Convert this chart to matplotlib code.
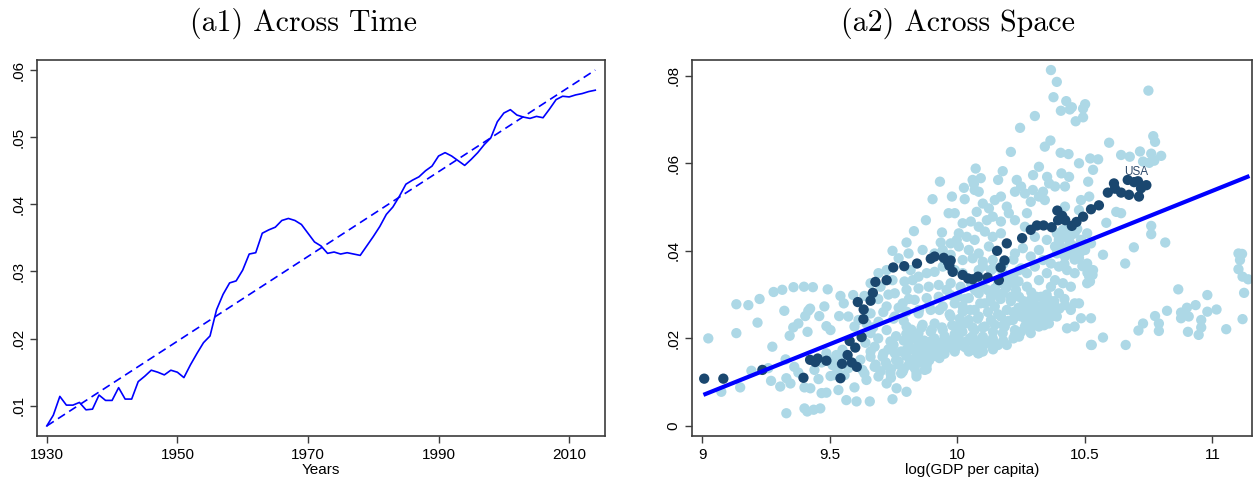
import matplotlib.pyplot as plt

# ---- panel (a1): share over time ----
years = list(range(1930, 2015))
share = [0.0070, 0.0086, 0.0114, 0.0101, 0.0101, 0.0105, 0.0094, 0.0095, 0.0116, 0.0108,
         0.0108, 0.0127, 0.0110, 0.0110, 0.0136, 0.0144, 0.0153, 0.0150, 0.0146, 0.0153,
         0.0150, 0.0142, 0.0161, 0.0178, 0.0194, 0.0204, 0.0243, 0.0266, 0.0283, 0.0286,
         0.0302, 0.0326, 0.0328, 0.0357, 0.0362, 0.0366, 0.0376, 0.0379, 0.0376, 0.0370,
         0.0357, 0.0344, 0.0338, 0.0327, 0.0329, 0.0326, 0.0328, 0.0326, 0.0324, 0.0338,
         0.0352, 0.0367, 0.0385, 0.0396, 0.0412, 0.0430, 0.0436, 0.0441, 0.0450, 0.0457,
         0.0472, 0.0477, 0.0472, 0.0465, 0.0458, 0.0467, 0.0477, 0.0489, 0.0499, 0.0523,
         0.0536, 0.0541, 0.0533, 0.0530, 0.0528, 0.0531, 0.0529, 0.0542, 0.0556, 0.0561,
         0.0560, 0.0563, 0.0565, 0.0568, 0.0570]
trend_years = [1930, 2014]
trend_share = [0.0070, 0.0600]

# ---- panel (a2): cross-country scatter ----
usa_x = [9.008, 9.083, 9.236, 9.397, 9.423, 9.443, 9.453, 9.487, 9.542, 9.548, 9.570, 9.578,
         9.586, 9.600, 9.606, 9.625, 9.632, 9.633, 9.610, 9.660, 9.669, 9.679, 9.723, 9.749,
         9.792, 9.842, 9.896, 9.911, 9.947, 9.963, 9.974, 9.969, 9.982, 10.021, 10.042, 10.060,
         10.081, 10.119, 10.163, 10.170, 10.185, 10.156, 10.194, 10.254, 10.288, 10.312, 10.338,
         10.370, 10.392, 10.395, 10.411, 10.423, 10.449, 10.467, 10.493, 10.524, 10.555, 10.590,
         10.614, 10.618, 10.642, 10.673, 10.668, 10.693, 10.708, 10.712, 10.720, 10.741]
usa_y = [0.0108, 0.0108, 0.0128, 0.0110, 0.0151, 0.0146, 0.0154, 0.0149, 0.0109, 0.0142, 0.0162, 0.0194,
         0.0145, 0.0179, 0.0135, 0.0203, 0.0244, 0.0266, 0.0283, 0.0286, 0.0304, 0.0329, 0.0333, 0.0362,
         0.0365, 0.0371, 0.0382, 0.0387, 0.0384, 0.0375, 0.0378, 0.0366, 0.0352, 0.0345, 0.0337, 0.0335,
         0.0341, 0.0339, 0.0333, 0.0362, 0.0378, 0.0400, 0.0417, 0.0429, 0.0448, 0.0458, 0.0458,
         0.0454, 0.0492, 0.0470, 0.0480, 0.0470, 0.0457, 0.0466, 0.0478, 0.0495, 0.0504, 0.0533,
         0.0554, 0.0542, 0.0533, 0.0528, 0.0562, 0.0557, 0.0559, 0.0524, 0.0543, 0.0550]

other_x = [
    9.024, 9.134, 9.181, 9.225, 9.280, 9.314, 9.358, 9.399, 9.434, 9.492, 9.134, 9.217, 9.322,
    9.275, 9.343, 9.357, 9.377, 9.404, 9.416, 9.423, 9.413, 9.459, 9.479, 9.487, 9.503, 9.537,
    9.542, 9.555, 9.592, 9.193, 9.149, 9.075, 9.270, 9.306, 9.330, 9.346, 9.259, 9.327, 9.361,
    9.377, 9.401, 9.424, 9.456, 9.468, 9.487, 9.511, 9.518, 9.558, 9.565, 9.605, 9.657, 9.597,
    9.330, 9.401, 9.412, 9.437, 9.463, 9.503, 9.531, 9.573, 9.534, 9.644, 9.628,
    9.746, 9.801, 9.830, 9.877, 9.903, 9.932, 9.979, 9.966, 9.940, 9.935, 9.864, 9.809, 9.770,
    9.723, 9.691, 9.660, 9.699, 9.746, 9.793, 9.825, 9.848, 9.880, 9.911, 9.943, 9.817, 9.755,
    9.801, 9.848, 9.888, 9.927, 9.958, 9.723, 9.786, 9.833, 9.880, 9.927, 9.974, 9.691, 9.755,
    9.801, 9.848, 9.896, 9.943, 9.990, 9.660, 9.723, 9.801, 9.864, 9.911, 9.974, 10.021, 9.676,
    9.738, 9.817, 9.848, 9.896, 9.943, 9.998, 9.707, 9.755, 9.801, 9.848, 9.896, 9.943, 9.990,
    10.037, 10.084, 9.676, 9.723, 9.770, 9.817, 9.864, 9.911, 9.691, 9.738, 9.786, 9.833, 9.880,
    9.723, 9.762, 9.801, 9.840, 9.746, 9.872,
    10.026, 10.065, 10.072, 10.060, 10.092, 10.160, 10.178, 10.210, 10.029, 10.068, 10.084,
    10.076, 10.100, 10.124, 10.147, 10.171, 10.194, 9.990, 10.021, 10.053, 10.084, 10.116,
    10.139, 10.171, 10.202, 10.006, 10.037, 10.068, 10.108, 10.139, 10.171, 9.974, 10.006,
    10.045, 10.084, 10.124, 10.021, 10.060, 10.100, 10.139, 9.990, 10.021, 10.084, 10.132,
    10.178, 9.974, 10.013, 10.053, 10.100, 10.147, 10.194, 10.002, 10.045, 10.084, 10.132,
    10.178, 10.210, 10.021, 10.068, 10.108, 10.147, 10.194, 10.045, 10.084, 10.132, 10.171,
    10.218, 10.068, 10.108, 10.147, 10.186, 10.226, 10.053, 10.100, 10.139, 10.178, 10.226,
    10.060, 10.100, 10.147, 10.194, 10.045, 10.081,
    10.367, 10.390, 10.377, 10.427, 10.406, 10.441, 10.449, 10.493, 10.501, 10.493, 10.464,
    10.304, 10.246, 10.365, 10.343, 10.405, 10.436, 10.320, 10.297, 10.352, 10.408, 10.521,
    10.477, 10.552, 10.532, 10.513, 10.438, 10.422, 10.233, 10.250, 10.226, 10.265, 10.288,
    10.320, 10.343, 10.296, 10.336, 10.360, 10.383, 10.485, 10.517, 10.477, 10.422,
    10.226, 10.273, 10.265, 10.304, 10.351, 10.383, 10.414, 10.438, 10.460, 10.485, 10.509,
    10.524, 10.398, 10.390, 10.422, 10.445, 10.477, 10.501, 10.509, 10.532, 10.517, 10.509,
    10.460, 10.430, 10.398, 10.367, 10.336, 10.304, 10.273, 10.242, 10.226, 10.257, 10.288,
    10.320, 10.351, 10.383, 10.414, 10.445, 10.367, 10.320, 10.273, 10.226, 10.242, 10.288,
    10.328, 10.359, 10.398, 10.422, 10.460, 10.477, 10.257, 10.288, 10.320, 10.351, 10.383,
    10.250, 10.296, 10.336, 10.367, 10.390, 10.445, 10.485, 10.524, 10.524, 10.430, 10.460,
    10.320, 10.359, 10.265, 10.288, 10.242,
    10.595, 10.642, 10.676, 10.716, 10.749, 10.768, 10.775, 10.760, 10.799, 10.772, 10.752,
    10.728, 10.584, 10.623, 10.642, 10.571, 10.658, 10.692, 10.760, 10.760, 10.815, 10.571,
    10.527, 10.660, 10.710, 10.728, 10.775, 10.790, 10.790, 10.822, 10.866, 10.877, 10.877,
    10.900, 10.904, 10.907, 10.934, 10.946, 10.956, 10.956, 10.980, 10.980, 11.016, 11.054,
    11.102, 11.108, 11.102, 11.118, 11.140, 11.124, 11.118, 11.116,
    9.636, 9.613, 9.644, 9.660, 9.597, 9.573, 9.620, 9.660, 9.636, 9.550, 9.550, 9.526, 9.511,
    9.487, 9.440, 9.468, 9.911, 9.943, 9.974, 9.998,
    9.78, 9.80, 9.82, 9.84, 9.86, 9.88, 9.90, 9.92, 9.94, 9.96, 9.98, 10.00, 9.79, 9.83, 9.87,
    9.91, 9.95, 9.99, 9.81, 9.85, 9.89, 9.93, 9.76, 9.74, 9.78, 9.70, 9.72,
    10.26, 10.28, 10.30, 10.32, 10.34, 10.36, 10.38, 10.40, 10.42, 10.31, 10.35, 10.27, 10.33,
    10.29, 10.37,
    10.40, 10.42, 10.44, 10.46, 10.41, 10.43, 10.45, 10.39, 10.47, 10.44, 10.48, 10.46, 10.42,
    10.50, 10.49, 10.51, 10.53, 10.52,
    10.02, 10.06, 10.10, 10.14, 10.18, 10.04, 10.08, 10.12, 10.16, 10.20, 10.22, 10.24,
    10.12, 10.16, 10.20, 10.22, 10.24, 10.10, 10.14, 10.18, 10.22, 10.25,
    9.71, 9.73, 9.75, 9.77, 9.79, 9.81, 9.83, 9.85, 9.87, 9.89, 9.91, 9.93, 9.95, 9.97, 9.99,
    10.01, 10.03, 10.05, 10.07, 10.09, 9.82, 9.86, 9.90, 9.94, 9.98, 10.02, 10.06, 9.76, 9.80,
    9.84, 9.88, 9.74, 9.68, 9.66, 9.69, 9.64, 9.67, 9.71, 9.75, 9.79, 9.69, 9.73, 9.77, 9.81,
    9.85, 9.89, 9.93, 9.97, 10.01, 10.05, 10.09, 10.13, 10.17, 10.21, 10.03, 10.07, 10.11,
    10.15, 10.19, 10.23,
    10.10, 10.14, 10.18, 10.22, 10.12, 10.16,
    10.27, 10.30, 10.34, 10.25, 10.29]
other_y = [
    0.0200, 0.0278, 0.0276, 0.0290, 0.0306, 0.0311, 0.0317, 0.0318, 0.0317, 0.0312, 0.0212, 0.0236, 0.0263,
    0.0181, 0.0206, 0.0225, 0.0234, 0.0251, 0.0263, 0.0268, 0.0215, 0.0251, 0.0273, 0.0228, 0.0219, 0.0251,
    0.0297, 0.0280, 0.0299, 0.0126, 0.0088, 0.0078, 0.0103, 0.0090, 0.0109, 0.0097, 0.0132, 0.0152, 0.0135,
    0.0122, 0.0088, 0.0086, 0.0107, 0.0075, 0.0076, 0.0139, 0.0116, 0.0116, 0.0059, 0.0056, 0.0056, 0.0088,
    0.0029, 0.0040, 0.0033, 0.0037, 0.0040, 0.0114, 0.0129, 0.0132, 0.0082, 0.0105, 0.0128,
    0.0400, 0.0419, 0.0445, 0.0470, 0.0518, 0.0558, 0.0524, 0.0486, 0.0442, 0.0419, 0.0402, 0.0394, 0.0383,
    0.0356, 0.0349, 0.0326, 0.0318, 0.0333, 0.0330, 0.0333, 0.0341, 0.0349, 0.0352, 0.0364, 0.0356, 0.0303,
    0.0311, 0.0314, 0.0318, 0.0322, 0.0311, 0.0273, 0.0280, 0.0288, 0.0292, 0.0295, 0.0299, 0.0238, 0.0250,
    0.0261, 0.0257, 0.0265, 0.0273, 0.0280, 0.0212, 0.0219, 0.0227, 0.0231, 0.0234, 0.0250, 0.0261, 0.0181,
    0.0193, 0.0204, 0.0212, 0.0215, 0.0219, 0.0227, 0.0158, 0.0166, 0.0174, 0.0185, 0.0193, 0.0189, 0.0196,
    0.0193, 0.0166, 0.0135, 0.0139, 0.0147, 0.0151, 0.0155, 0.0170, 0.0113, 0.0120, 0.0124, 0.0132, 0.0139,
    0.0097, 0.0086, 0.0078, 0.0113, 0.0061, 0.0128,
    0.0544, 0.0553, 0.0588, 0.0562, 0.0566, 0.0562, 0.0582, 0.0626, 0.0518, 0.0539, 0.0535,
    0.0489, 0.0508, 0.0497, 0.0516, 0.0524, 0.0501, 0.0486, 0.0463, 0.0467, 0.0455, 0.0470,
    0.0478, 0.0467, 0.0486, 0.0440, 0.0432, 0.0425, 0.0444, 0.0432, 0.0440, 0.0417, 0.0410,
    0.0402, 0.0394, 0.0410, 0.0379, 0.0383, 0.0375, 0.0379, 0.0356, 0.0349, 0.0356, 0.0356,
    0.0349, 0.0326, 0.0318, 0.0326, 0.0318, 0.0314, 0.0318, 0.0295, 0.0292, 0.0303, 0.0295,
    0.0303, 0.0295, 0.0273, 0.0265, 0.0280, 0.0273, 0.0265, 0.0242, 0.0250, 0.0242, 0.0250,
    0.0242, 0.0219, 0.0227, 0.0231, 0.0227, 0.0219, 0.0196, 0.0204, 0.0200, 0.0212, 0.0208,
    0.0174, 0.0181, 0.0189, 0.0185, 0.0170, 0.0166,
    0.0813, 0.0786, 0.0751, 0.0742, 0.0720, 0.0723, 0.0728, 0.0725, 0.0735, 0.0705, 0.0696,
    0.0708, 0.0681, 0.0652, 0.0638, 0.0624, 0.0621, 0.0592, 0.0573, 0.0569, 0.0577, 0.0611,
    0.0600, 0.0609, 0.0585, 0.0558, 0.0569, 0.0547, 0.0562, 0.0547, 0.0535, 0.0531, 0.0512,
    0.0524, 0.0516, 0.0539, 0.0535, 0.0554, 0.0547, 0.0516, 0.0524, 0.0493, 0.0501,
    0.0470, 0.0486, 0.0455, 0.0432, 0.0425, 0.0410, 0.0448, 0.0432, 0.0440, 0.0425, 0.0440,
    0.0417, 0.0425, 0.0394, 0.0387, 0.0394, 0.0383, 0.0402, 0.0371, 0.0356, 0.0341, 0.0326,
    0.0349, 0.0356, 0.0364, 0.0371, 0.0379, 0.0364, 0.0349, 0.0356, 0.0394, 0.0406, 0.0387,
    0.0402, 0.0349, 0.0333, 0.0326, 0.0318, 0.0318, 0.0333, 0.0318, 0.0326, 0.0295, 0.0288,
    0.0295, 0.0288, 0.0303, 0.0276, 0.0280, 0.0280, 0.0273, 0.0265, 0.0273, 0.0265, 0.0273,
    0.0250, 0.0250, 0.0253, 0.0250, 0.0250, 0.0265, 0.0246, 0.0246, 0.0185, 0.0223, 0.0227,
    0.0227, 0.0234, 0.0227, 0.0212, 0.0204,
    0.0647, 0.0619, 0.0615, 0.0627, 0.0766, 0.0662, 0.0649, 0.0622, 0.0617, 0.0606, 0.0601,
    0.0604, 0.0464, 0.0489, 0.0486, 0.0391, 0.0371, 0.0408, 0.0457, 0.0438, 0.0419, 0.0202,
    0.0185, 0.0185, 0.0218, 0.0234, 0.0251, 0.0234, 0.0217, 0.0263, 0.0312, 0.0259, 0.0246,
    0.0270, 0.0215, 0.0250, 0.0276, 0.0208, 0.0225, 0.0242, 0.0299, 0.0261, 0.0266, 0.0221,
    0.0394, 0.0379, 0.0358, 0.0341, 0.0335, 0.0304, 0.0244, 0.0393,
    0.0297, 0.0242, 0.0234, 0.0257, 0.0227, 0.0250, 0.0151, 0.0158, 0.0120, 0.0174, 0.0155, 0.0162, 0.0151,
    0.0166, 0.0128, 0.0145, 0.0394, 0.0402, 0.0391, 0.0425,
    0.0170, 0.0160, 0.0175, 0.0165, 0.0178, 0.0168, 0.0180, 0.0175, 0.0185, 0.0178, 0.0188, 0.0182, 0.0195, 0.0200, 0.0195,
    0.0200, 0.0205, 0.0210, 0.0140, 0.0145, 0.0150, 0.0155, 0.0150, 0.0130, 0.0120, 0.0125, 0.0145,
    0.0285, 0.0270, 0.0280, 0.0262, 0.0278, 0.0270, 0.0285, 0.0268, 0.0290, 0.0295, 0.0300, 0.0255, 0.0245,
    0.0305, 0.0260,
    0.0415, 0.0405, 0.0420, 0.0410, 0.0430, 0.0445, 0.0438, 0.0440, 0.0450, 0.0455, 0.0395, 0.0380, 0.0370,
    0.0410, 0.0365, 0.0350, 0.0345, 0.0330,
    0.0215, 0.0205, 0.0225, 0.0215, 0.0230, 0.0235, 0.0245, 0.0260, 0.0255, 0.0240, 0.0260, 0.0270,
    0.0310, 0.0325, 0.0335, 0.0345, 0.0330, 0.0365, 0.0360, 0.0370, 0.0380, 0.0360,
    0.0165, 0.0175, 0.0185, 0.0140, 0.0130, 0.0185, 0.0150, 0.0190, 0.0160, 0.0185, 0.0160, 0.0190, 0.0165, 0.0195, 0.0170,
    0.0195, 0.0180, 0.0200, 0.0185, 0.0195, 0.0220, 0.0225, 0.0220, 0.0225, 0.0230, 0.0230, 0.0225, 0.0205, 0.0210,
    0.0120, 0.0130, 0.0110, 0.0140, 0.0170, 0.0200, 0.0190, 0.0225, 0.0260, 0.0245, 0.0240, 0.0290, 0.0300, 0.0270, 0.0290,
    0.0265, 0.0275, 0.0265, 0.0255, 0.0245, 0.0265, 0.0280, 0.0285, 0.0290, 0.0285, 0.0290, 0.0310, 0.0335,
    0.0300, 0.0315, 0.0310,
    0.0170, 0.0175, 0.0195, 0.0200, 0.0190, 0.0185,
    0.0240, 0.0235, 0.0230, 0.0215, 0.0225]

fit_x = [9.005, 11.145]
fit_y = [0.0071, 0.0571]

light = '#add8e6'
navy = '#1a476f'
frame = '#3c3c3c'

fig = plt.figure(figsize=(12.54, 4.83), dpi=100)
ax1 = fig.add_axes([0.0295, 0.0973, 0.453, 0.7785])
ax2 = fig.add_axes([0.5518, 0.0973, 0.4466, 0.7785])

ax1.plot(years, share, color='blue', lw=1.2)
ax1.plot(trend_years, trend_share, color='blue', lw=1.2, ls=(0, (5, 3)))
ax1.set_xlim(1928.5, 2015.5)
ax1.set_ylim(0.0055, 0.0615)
ax1.set_xticks([1930, 1950, 1970, 1990, 2010])
ax1.set_yticks([0.01, 0.02, 0.03, 0.04, 0.05, 0.06])
ax1.set_yticklabels(['.01', '.02', '.03', '.04', '.05', '.06'])
ax1.set_xlabel('Years', labelpad=1)

ax2.scatter(other_x, other_y, s=55, color=light, edgecolors='none', zorder=2)
ax2.scatter(usa_x, usa_y, s=55, color=navy, edgecolors='none', zorder=3)
ax2.plot(fit_x, fit_y, color='blue', lw=3, zorder=4, solid_capstyle='butt')
ax2.text(10.70, 0.0581, 'USA', color='#2e4a6b', fontsize=8.5, ha='center', va='center',
         family='Liberation Sans', zorder=5)
ax2.set_xlim(8.96, 11.155)
ax2.set_ylim(-0.0023, 0.0836)
ax2.set_xticks([9, 9.5, 10, 10.5, 11])
ax2.set_xticklabels(['9', '9.5', '10', '10.5', '11'])
ax2.set_yticks([0, 0.02, 0.04, 0.06, 0.08])
ax2.set_yticklabels(['0', '.02', '.04', '.06', '.08'])
ax2.set_xlabel('log(GDP per capita)', labelpad=1)

for ax in (ax1, ax2):
    for sp in ax.spines.values():
        sp.set_color(frame)
        sp.set_linewidth(1.2)
    ax.tick_params(direction='out', length=5, width=1, color=frame, labelsize=11)
    ax.xaxis.label.set_size(11)
    for lab in ax.get_yticklabels():
        lab.set_rotation(90)
        lab.set_va('center')
    for lab in ax.get_xticklabels() + ax.get_yticklabels() + [ax.xaxis.label]:
        lab.set_family('Liberation Sans')

fig.text(303 / 1254, 1 - 23 / 483, '(a1) Across Time', family='cmr10', fontsize=21.5,
         ha='center', va='center')
fig.text(958 / 1254, 1 - 23 / 483, '(a2) Across Space', family='cmr10', fontsize=21.5,
         ha='center', va='center')

fig.savefig('out.png', dpi=100)
